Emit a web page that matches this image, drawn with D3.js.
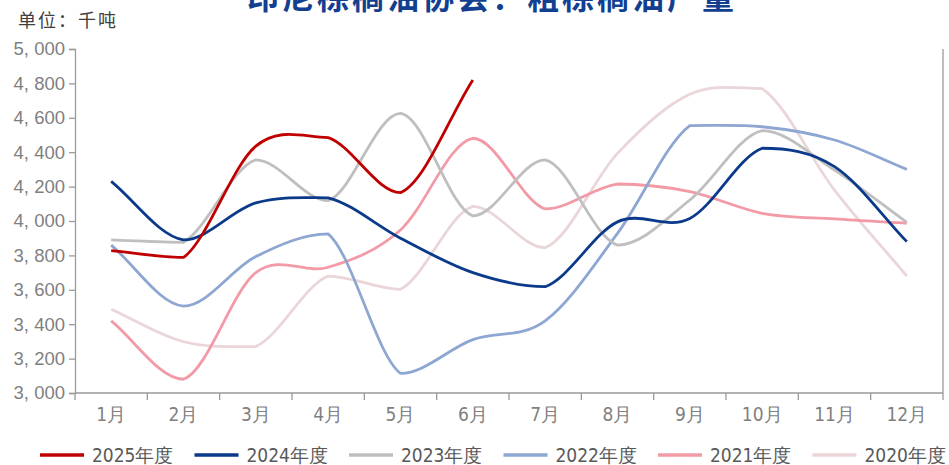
<!DOCTYPE html>
<html>
<head>
<meta charset="utf-8">
<script src="https://cdn.jsdelivr.net/npm/d3@7/dist/d3.min.js"></script>
<style>
  html, body { margin: 0; padding: 0; background: #fff; }
  svg { display: block; }
</style>
</head>
<body>
<svg id="chart" width="949" height="465"></svg>
<script>
// Monthly crude palm oil output, thousand tonnes
const months = ["1月","2月","3月","4月","5月","6月","7月","8月","9月","10月","11月","12月"];
const seriesNames = ["2025年度","2024年度","2023年度","2022年度","2021年度","2020年度"];
const seriesColors = ["#c00000","#0b3a8a","#bfbfbf","#8ea6d2","#f29aa6","#ead6d8"];
const y2025 = [3828, 3788, 4435, 4485, 4165, 4820];
const y2024 = [4230, 3890, 4105, 4135, 3900, 3700, 3618, 3995, 4015, 4423, 4316, 3880];
const y2023 = [3890, 3876, 4355, 4118, 4626, 4030, 4355, 3860, 4122, 4525, 4296, 3992];
const y2022 = [3860, 3505, 3793, 3925, 3114, 3310, 3420, 3928, 4555, 4548, 4471, 4300];
const y2021 = [3419, 3080, 3700, 3731, 3948, 4481, 4070, 4215, 4171, 4045, 4012, 3987];
const y2020 = [3487, 3298, 3270, 3680, 3603, 4085, 3845, 4393, 4737, 4770, 4180, 3680];
const yTicks = [3000, 3200, 3400, 3600, 3800, 4000, 4200, 4400, 4600, 4800, 5000];
const allSeries = [y2025, y2024, y2023, y2022, y2021, y2020];

const svg = d3.select("#chart");
const plotLeft = 75, plotRight = 943, plotTop = 49, plotBottom = 393;
const axisColor = "#9a9a9a";
const narrow = "'Liberation Sans Narrow', 'DejaVu Sans Condensed', 'Liberation Sans', Arial, sans-serif";

const x = d3.scaleBand().domain(months).range([plotLeft, plotRight]);
const y = d3.scaleLinear().domain([3000, 5000]).range([plotBottom, plotTop]);

// Smoothed line: Catmull-Rom style tangents, but a control handle that would
// make the curve swing back past its own anchor point is flattened instead.
function smoothCurve(context) {
  let pts;
  return {
    areaStart() {}, areaEnd() {},
    lineStart() { pts = []; },
    point(px, py) { pts.push([+px, +py]); },
    lineEnd() {
      const n = pts.length;
      if (!n) return;
      context.moveTo(pts[0][0], pts[0][1]);
      const tan = pts.map((p, i) => {
        const a = pts[Math.max(0, i - 1)], b = pts[Math.min(n - 1, i + 1)];
        const s = (i === 0 || i === n - 1) ? 1 / 3 : 1 / 6;
        return [(b[0] - a[0]) * s, (b[1] - a[1]) * s];
      });
      for (let i = 0; i < n - 1; i++) {
        const p = pts[i], q = pts[i + 1];
        const c1 = [p[0] + tan[i][0], p[1] + tan[i][1]];
        const c2 = [q[0] - tan[i + 1][0], q[1] - tan[i + 1][1]];
        if ((c1[1] - p[1]) * (q[1] - p[1]) < 0) c1[1] = p[1];
        if ((c2[1] - q[1]) * (p[1] - q[1]) < 0) c2[1] = q[1];
        context.bezierCurveTo(c1[0], c1[1], c2[0], c2[1], q[0], q[1]);
      }
    }
  };
}

// Title (partly above the top edge) and unit note
svg.append("text")
  .attr("x", 492).attr("y", 9)
  .attr("text-anchor", "middle")
  .attr("font-family", "'Noto Sans CJK SC', sans-serif")
  .attr("font-weight", "bold")
  .attr("font-size", 32)
  .attr("letter-spacing", 3)
  .attr("fill", "#123f8f")
  .text("印尼棕榈油协会：粗棕榈油产量");

svg.append("text")
  .attr("x", 18).attr("y", 27)
  .attr("font-family", "'Noto Sans CJK SC', sans-serif")
  .attr("font-size", 18)
  .attr("letter-spacing", 2)
  .attr("fill", "#404040")
  .text("单位：千吨");

// Y axis
const yAxis = svg.append("g")
  .attr("transform", `translate(${plotLeft},0)`)
  .call(d3.axisLeft(y).tickValues(yTicks).tickSize(6).tickPadding(4)
    .tickFormat(d => d3.format(",")(d).replace(",", ", ")));
yAxis.select(".domain").attr("stroke", axisColor).attr("stroke-width", 1.3);
yAxis.selectAll(".tick line").attr("stroke", axisColor).attr("stroke-width", 1.3);
yAxis.selectAll(".tick text")
  .attr("fill", "#7f7f7f")
  .attr("font-family", "'Liberation Sans', Arial, sans-serif")
  .attr("font-size", 18.5);

// X axis with ticks on category boundaries
const xAxisG = svg.append("g").attr("transform", `translate(0,${plotBottom})`);
xAxisG.append("line")
  .attr("x1", plotLeft).attr("x2", plotRight)
  .attr("stroke", axisColor).attr("stroke-width", 1.3);
const bounds = months.map(m => x(m)).concat([plotRight]);
xAxisG.selectAll("line.tk").data(bounds).join("line")
  .attr("class", "tk")
  .attr("x1", d => d).attr("x2", d => d)
  .attr("y1", 0).attr("y2", 7)
  .attr("stroke", axisColor).attr("stroke-width", 1.3);
xAxisG.selectAll("text").data(months).join("text")
  .attr("x", d => x(d) + x.bandwidth() / 2)
  .attr("y", 28)
  .attr("text-anchor", "middle")
  .attr("font-family", narrow)
  .attr("font-size", 19)
  .attr("fill", "#7f7f7f")
  .text(d => d);

// Right frame edge
svg.append("line")
  .attr("x1", plotRight).attr("x2", plotRight)
  .attr("y1", plotTop).attr("y2", plotBottom)
  .attr("stroke", axisColor).attr("stroke-width", 1.3);

// Series lines, drawn oldest first so the current year sits on top
const line = d3.line()
  .x((d, i) => x(months[i]) + x.bandwidth() / 2)
  .y(d => y(d))
  .curve(smoothCurve);

const order = d3.range(allSeries.length).reverse();
svg.append("g").selectAll("path").data(order).join("path")
  .attr("d", k => line(allSeries[k]))
  .attr("fill", "none")
  .attr("stroke", k => seriesColors[k])
  .attr("stroke-width", 2.8)
  .attr("stroke-linejoin", "round");

// Legend
const legend = svg.append("g").attr("transform", "translate(40,455)");
const item = legend.selectAll("g").data(seriesNames).join("g")
  .attr("transform", (d, i) => `translate(${i * 154.5},0)`);
item.append("line")
  .attr("x1", 0).attr("x2", 44)
  .attr("y1", 0).attr("y2", 0)
  .attr("stroke", (d, i) => seriesColors[i])
  .attr("stroke-width", 3.5);
item.append("text")
  .attr("x", 52).attr("y", 7)
  .attr("font-family", narrow)
  .attr("font-size", 19)
  .attr("fill", "#595959")
  .text(d => d);
</script>
</body>
</html>
